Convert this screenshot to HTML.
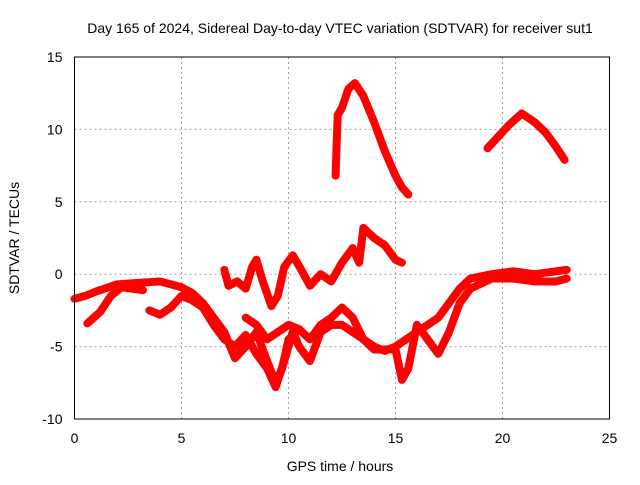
<!DOCTYPE html>
<html><head><meta charset="utf-8"><style>
body{margin:0;background:#fff}
svg{font-family:"Liberation Sans",sans-serif;font-size:14px}
</style></head><body>
<svg id="chart" width="640" height="480" viewBox="0 0 640 480">
<rect width="640" height="480" fill="#fff"/>
<g id="grid"></g><g id="series"></g><g id="axes"></g>
</svg>
<script>
const xTicks=[0,5,10,15,20,25];
const yTicks=[-10,-5,0,5,10,15];
const seriesArc1=[[12.2,6.8],[12.25,9],[12.3,11],[12.5,11.5],[12.8,12.8],[13.1,13.2],[13.5,12.3],[14,10.5],[14.5,8.5],[15,6.8],[15.3,6],[15.6,5.5]];
const seriesArc2=[[19.3,8.7],[19.8,9.5],[20.3,10.3],[20.9,11.1],[21.5,10.5],[22,9.8],[22.5,8.8],[22.9,7.9]];
const seriesMid=[[7,0.3],[7.2,-0.8],[7.6,-0.5],[8,-1],[8.3,0.5],[8.5,1],[8.8,-0.5],[9.2,-2.2],[9.5,-1.5],[9.8,0.5],[10.2,1.3],[10.6,0.3],[11,-0.8],[11.5,0],[12,-0.5],[12.5,0.8],[13,1.8],[13.3,0.8],[13.5,3.2],[14,2.5],[14.5,2],[15,1],[15.3,0.8]];
const seriesMain=[[0,-1.7],[0.5,-1.5],[1,-1.2],[2,-0.7],[3,-0.6],[4,-0.5],[5,-0.9],[5.5,-1.3],[6,-2],[6.5,-3],[7,-4],[7.5,-5.8],[8,-5],[8.5,-4],[9,-6],[9.4,-7.5],[9.7,-6.5],[10,-4.5],[10.5,-3.8],[11,-4.5],[11.5,-3.5],[12,-3],[12.5,-2.3],[13,-3],[13.5,-4.5],[14,-5],[14.5,-5.3],[15,-5],[15.5,-4.5],[16,-4],[16.5,-3.5],[17,-3],[17.5,-2],[18,-1],[18.5,-0.3],[19.5,0],[20.5,0.2],[21.5,0],[22.5,0.2],[23,0.3]];
const seriesEarly=[[0.6,-3.4],[1.2,-2.6],[1.7,-1.5],[2.2,-0.9],[3.2,-1.1]];
const seriesSecond=[[3.5,-2.5],[4,-2.8],[4.5,-2.3],[5,-1.5],[5.5,-1.8],[6,-2.3],[6.5,-3.5],[7,-4.5],[7.5,-5],[8,-4.2],[8.5,-5.5],[9,-6.5],[9.4,-7.8],[9.8,-6],[10.2,-4],[10.5,-5],[11,-6],[11.5,-4],[12,-3.5],[12.5,-3.5],[13,-4],[13.5,-4.5],[14,-5.2],[15,-5.2],[15.3,-7.3],[15.6,-6.5],[16,-3.5],[16.5,-4.5],[17,-5.5],[17.5,-4],[18,-2],[18.5,-1],[19.5,-0.3],[20.5,-0.3],[21.5,-0.5],[22.5,-0.5],[23,-0.3]];
const seriesThird=[[8,-3],[8.5,-3.5],[9,-4.5],[9.5,-4],[10,-3.5],[10.5,-3.8]];
const allSeries=[seriesArc1,seriesArc2,seriesMid,seriesMain,seriesEarly,seriesSecond,seriesThird];
const L=74.5,R=609.5,T=57,B=419;
const xs=v=>L+(v-0)/25*(R-L);
const ys=v=>B-(v+10)/25*(B-T);
const NS="http://www.w3.org/2000/svg";
function mk(t,a,p){const e=document.createElementNS(NS,t);for(const k in a)e.setAttribute(k,a[k]);p.appendChild(e);return e;}
const grid=document.getElementById('grid'),ax=document.getElementById('axes'),sg=document.getElementById('series');
xTicks.forEach(t=>{
 if(t>0&&t<25){const g=mk('line',{x1:xs(t),x2:xs(t),y1:T,y2:B,stroke:'#a0a0a0','stroke-dasharray':'2,3'},grid);
 
 }
 const tx=mk('text',{x:xs(t),y:B+24,'text-anchor':'middle',fill:'#000'},ax);tx.textContent=t;
 
 
});
yTicks.forEach(t=>{
 if(t>-10&&t<15){const g=mk('line',{x1:L,x2:R,y1:ys(t),y2:ys(t),stroke:'#a0a0a0','stroke-dasharray':'2,3'},grid);
 
 }
 const tx=mk('text',{x:L-12,y:ys(t)+5,'text-anchor':'end',fill:'#000'},ax);tx.textContent=t;
 
 
});
const fr=mk('rect',{x:L,y:T,width:R-L,height:B-T,fill:'none',stroke:'#000','stroke-width':1},ax);


allSeries.forEach(s=>{
 const p=mk('polyline',{points:s.map(d=>xs(d[0])+','+ys(d[1])).join(' '),fill:'none',stroke:'#ff0000','stroke-width':8,'stroke-linejoin':'round','stroke-linecap':'round'},sg);
 
 
});
const title=mk('text',{x:340,y:33,'text-anchor':'middle',fill:'#000'},ax);
title.textContent='Day 165 of 2024, Sidereal Day-to-day VTEC variation (SDTVAR) for receiver sut1';


const xl=mk('text',{x:340,y:471,'text-anchor':'middle',fill:'#000'},ax);
xl.textContent='GPS time / hours';


const yl=mk('text',{x:0,y:0,'text-anchor':'middle',fill:'#000',transform:'translate(19,238) rotate(-90)'},ax);
yl.textContent='SDTVAR / TECUs';


</script>
</body></html>
